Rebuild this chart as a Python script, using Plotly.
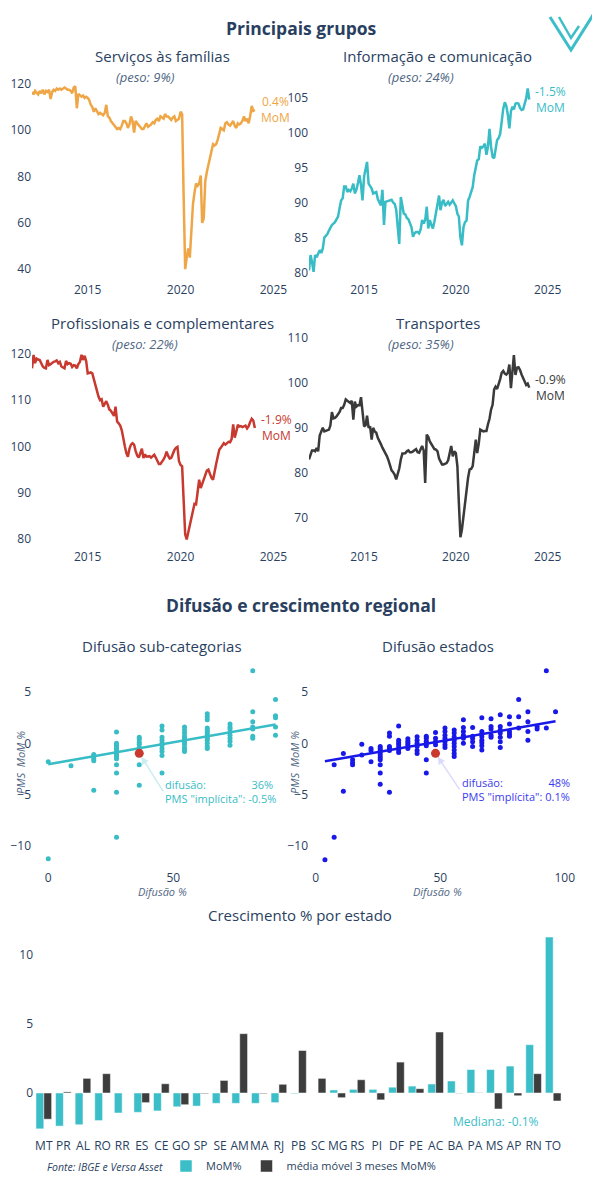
import plotly.graph_objects as go
import pandas as pd

W, H = 600, 1200

# ---------------- data ----------------
dates = pd.date_range("2012-01-01", periods=145, freq="MS")

familias = [
    116.5, 115.5, 117, 116, 115.5, 117, 116, 117.5, 115.5, 117, 116.5, 117.5,
    113.5, 116.5, 117.5, 117, 118, 117.5, 118, 117.5, 118, 118.5, 118, 117.5,
    117.5, 117, 116, 118.5, 119, 109.5, 115.7, 115, 114.5, 115, 114, 114.5,
    114, 113, 111, 110, 108, 109.5, 108, 107, 107.5, 107, 106.5, 107.5,
    111, 106, 105.5, 104, 103, 102, 101.5, 100.5, 101, 100.5, 102, 104,
    104, 103, 101, 102.5, 106, 104, 99, 104, 103, 102, 101, 100.5,
    100.5, 102, 103, 101.5, 102, 102.5, 103.5, 103, 104.5, 105, 104, 106,
    105.5, 105, 107, 106, 106, 105, 104.5, 105.5, 106, 104, 104.5, 105,
    108, 107, 72, 40, 45, 49, 45, 60, 68, 73, 77, 76,
    77, 80.5, 60, 62, 78, 82, 85, 88, 92, 94, 93.5, 94,
    96, 99, 101, 100.5, 100, 103, 103.5, 102.5, 102, 103, 104, 102,
    101, 103, 102.5, 103, 104, 106, 104, 105, 103, 106, 110.5, 108.4,
    108.8,
]

informacao = [
    80.3, 82.5, 81.5, 80.1, 82.5, 82.2, 82.7, 83.2, 82.8, 83.4, 85.0, 85.3,
    85.5, 86.0, 86.5, 86.8, 87.0, 87.2, 87.6, 88.0, 89.2, 90.3, 90.6, 92.3,
    92.3, 91.5, 91.8, 91.6, 92.0, 92.7, 91.3, 91.8, 92.8, 93.9, 92.5, 90.3,
    93.7, 95.0, 95.8, 92.7, 92.4, 92.0, 91.3, 91.4, 91.5, 90.5, 89.9, 89.6,
    91.8, 86.8, 90.1, 90.2, 90.3, 90.3, 90.4, 90.0, 89.8, 89.0, 87.0, 84.1,
    90.8, 89.5, 88.4, 88.3, 87.8, 87.6, 87.0, 86.5, 85.1, 85.6, 85.8, 85.8,
    85.6, 86.2, 87.5, 87.0, 87.5, 89.4, 86.3, 87.5, 86.8, 86.3, 87.3, 88.5,
    90.0, 91.0, 88.9, 90.0, 90.4, 89.5, 89.8, 90.1, 89.7, 90.0, 90.3, 89.9,
    89.5, 88.4, 88.0, 85.0, 83.9, 86.5, 87.2, 87.4, 90.3, 90.8, 91.5, 92.2,
    93.9, 95.2, 96.0, 96.2, 98.0, 97.8, 98.0, 98.4, 96.8, 98.0, 100.5, 98.0,
    96.5, 96.3, 97.5, 98.9, 99.2, 99.8, 101.5, 103.4, 104.3, 103.8, 102.5, 100.6,
    103.0, 103.7, 103.3, 104.1, 104.2, 104.1, 103.5, 103.2, 103.3, 104.0, 104.9, 106.3,
    104.7,
]

profissionais = [
    116.9, 119.8, 118.0, 119.0, 118.8, 118.7, 118.0, 117.3, 117.0, 116.9, 118.7, 117.6,
    117.8, 118.1, 118.3, 118.4, 118.6, 118.0, 118.3, 117.3, 117.1, 116.9, 118.5, 117.8,
    118.0, 117.9, 117.2, 117.6, 117.5, 116.9, 117.8, 118.3, 119.8, 118.7, 119.6, 118.5,
    115.8, 116.0, 116.0, 115.8, 114.5, 113.3, 112.2, 110.8, 110.0, 110.2, 108.6, 109.3,
    109.8, 109.0, 108.0, 107.7, 107.2, 106.6, 108.6, 105.4, 105.0, 104.5, 103.5, 101.4,
    100.0, 98.5, 97.8, 99.5, 100.4, 100.7, 100.4, 99.0, 98.0, 97.6, 98.6, 99.5,
    97.5, 98.3, 97.8, 97.9, 97.9, 97.6, 98.0, 98.2, 97.6, 96.8, 96.2, 96.2,
    96.6, 97.2, 97.8, 98.9, 98.0, 97.4, 97.5, 98.6, 99.2, 99.7, 99.9, 96.8,
    96.0, 95.7, 88.5, 81.0, 79.9, 81.5, 83.5, 84.7, 86.0, 87.6, 87.5, 90.6,
    92.8, 91.0, 91.9, 93.0, 93.8, 94.8, 95.0, 94.0, 93.2, 92.8, 95.0, 96.2,
    97.8, 99.3, 99.7, 100.1, 100.7, 100.4, 100.7, 101.0, 100.9, 101.6, 104.8, 101.9,
    103.2, 104.7, 104.3, 104.4, 104.2, 104.3, 104.5, 103.9, 104.4, 105.3, 106.0, 105.6,
    104.0,
]

transportes = [
    83.0, 84.0, 85.0, 85.0, 84.8, 85.5, 84.8, 88.3, 89.0, 90.0, 89.2, 89.3,
    89.5, 89.6, 90.5, 93.5, 92.1, 92.2, 92.5, 92.9, 93.5, 94.4, 94.4, 95.1,
    96.3, 96.0, 95.8, 95.5, 96.0, 91.8, 95.8, 94.7, 95.0, 95.0, 96.8, 94.0,
    90.3, 90.6, 92.7, 90.0, 90.3, 87.4, 90.0, 89.2, 88.9, 87.8, 87.2, 86.4,
    85.6, 85.0, 84.6, 83.7, 82.8, 81.7, 80.6, 80.2, 79.6, 78.6, 79.9, 81.0,
    83.0, 84.3, 84.3, 84.4, 84.8, 85.0, 84.6, 84.6, 84.8, 85.0, 85.3, 84.6,
    84.5, 85.3, 86.0, 85.0, 77.8, 88.5, 88.0, 87.0, 86.4, 85.6, 85.3, 85.2,
    84.8, 83.2, 82.5, 81.9, 81.9, 82.1, 82.2, 82.8, 84.5, 86.0, 83.7, 84.8,
    84.4, 81.5, 73.4, 65.8, 67.5, 70.5, 73.5, 76.5, 79.0, 80.8, 80.9, 81.5,
    84.5, 87.4, 84.4, 86.5, 89.6, 89.3, 89.2, 89.3, 89.3, 90.8, 92.0, 94.0,
    95.1, 98.5, 99.1, 98.6, 99.5, 100.8, 102.2, 102.6, 102.0, 101.8, 102.2, 104.0,
    98.8, 103.5, 106.1, 101.7, 103.3, 103.4, 102.8, 101.8, 101.1, 100.5, 99.5, 99.8,
    98.9,
]

group_titles = ["Serviços às famílias", "Informação e comunicação",
                "Profissionais e complementares", "Transportes"]
group_pesos = ["(peso: 9%)", "(peso: 24%)", "(peso: 22%)", "(peso: 35%)"]
group_mom = ["0.4%", "-1.5%", "-1.9%", "-0.9%"]

# diffusion scatter: (diffusion level, [PMS MoM % values])
sub_groups = [
    (0.0, [-1.8, -11.3]),
    (9.1, [-2.2]),
    (18.2, [-1.1, -1.3, -1.5, -1.7, -4.6]),
    (27.3, [1.1, 0.0, -0.2, -0.3, -0.5, -0.6, -0.8, -1.0, -1.1, -1.3, -1.5, -2.1, -2.9, -4.8, -9.2]),
    (36.4, [0.6, 0.4, 0.1, -0.1, -0.4, -0.6, -2.1, -4.1]),
    (45.5, [1.7, 1.3, 0.6, 0.3, 0.0, -0.2, -0.5, -0.8, -1.2, -2.9]),
    (54.5, [1.6, 1.3, 1.0, 0.7, 0.5, 0.3, 0.1, -0.1, -0.4, -0.6, -0.8]),
    (63.6, [2.9, 2.6, 2.3, 1.5, 1.3, 1.1, 0.9, 0.7, 0.5, 0.3, 0.0, -0.3, -0.5]),
    (72.7, [1.9, 1.6, 1.4, 1.1, 0.8, 0.5, 0.2, -0.2]),
    (81.8, [7.1, 3.1, 2.1, 1.6, 1.4, 0.7, 0.5]),
    (90.9, [4.3, 2.7, 2.5, 1.6, 0.8]),
]
sub_trend_x = [0.0, 90.9]
sub_trend_y = [-2.05, 1.85]
sub_current = (36.4, -0.98)

est_groups = [
    (3.7, [-11.4]),
    (7.4, [-2.1, -9.2]),
    (11.1, [-1.0, -4.7]),
    (14.8, [-1.6, -1.9, -2.1]),
    (18.5, [-0.1, -1.15]),
    (22.2, [-0.5, -0.7, -1.8]),
    (25.9, [-0.3, -0.5, -0.7, -0.9, -1.15, -1.4, -1.6, -2.1, -2.9, -4.0]),
    (29.6, [1.0, 0.7, -0.3, -0.5, -0.7, -4.8]),
    (33.3, [1.7, 0.3, 0.05, -0.15, -0.4, -0.65, -0.9]),
    (37.0, [0.45, 0.2, 0.0, -0.2, -0.5]),
    (40.7, [0.65, 0.3, 0.0, -0.3, -0.7, -1.0]),
    (44.4, [0.7, 0.5, 0.2, 0.0, -0.25, -1.6, -2.9]),
    (48.1, [1.05, 0.5, 0.15, -0.15]),
    (51.9, [1.5, 1.15, 0.8, 0.5, 0.15, -0.15, -0.4]),
    (55.6, [1.3, 1.0, 0.65, 0.3, 0.0, -0.3, -0.65, -1.0, -1.3]),
    (59.3, [2.3, 1.55, 1.15, 0.8, 0.5, 0.0]),
    (63.0, [1.55, 0.7, 0.5, 0.15, -0.3]),
    (66.7, [2.5, 1.15, 0.9, 0.65, 0.3, 0.05, -0.25, -0.65]),
    (70.4, [2.4, 1.65, 1.4, 0.8, 0.6]),
    (74.1, [2.8, 1.65, 1.3, 1.0, 0.6, 0.15, -0.4]),
    (77.8, [2.6, 1.9, 1.15, 0.9, 0.7]),
    (81.5, [4.3, 2.6, 1.5]),
    (85.2, [3.1, 2.1, 1.15, 0.3]),
    (88.9, [1.65, 1.4]),
    (92.6, [7.1, 1.5]),
    (96.3, [3.1]),
]
est_trend_x = [3.7, 96.3]
est_trend_y = [-1.75, 2.15]
est_current = (48.1, -0.98)

states = ["MT", "PR", "AL", "RO", "RR", "ES", "CE", "GO", "SP", "SE", "AM", "MA", "RJ", "PB",
          "SC", "MG", "RS", "PI", "DF", "PE", "AC", "BA", "PA", "MS", "AP", "RN", "TO"]
mom_estado = [-2.6, -2.4, -2.3, -2.0, -1.45, -1.4, -1.3, -1.0, -0.95, -0.75, -0.75, -0.75, -0.7, -0.05,
              0.0, 0.22, 0.26, 0.26, 0.42, 0.5, 0.65, 0.87, 1.7, 1.7, 1.95, 3.5, 11.3]
mm3_estado = [-1.9, 0.08, 1.06, 1.4, 0.0, -0.7, 0.67, -0.85, -0.05, 0.91, 4.3, -0.05, 0.63, 3.08,
              1.06, -0.34, 0.96, -0.5, 2.24, 0.31, 4.42, -0.02, 0.02, -1.16, -0.2, 1.4, -0.58]

# ---------------- styling ----------------
ORANGE = "#EFA646"
TEAL = "#38BCC6"
RED = "#C8392F"
DARK = "#3A3A3A"
BLUE = "#1818E8"
BAR_CYAN = "#3BBEC8"
BAR_DARK = "#3D3D3D"
TXT = "#2a3f5f"

OFF = 8  # page offset of the figure inside the browser window


def fx(x):
    return (x - OFF) / W


def fy(y):
    return 1 - (y - OFF) / H


C1, C2 = (32, 292), (309, 566)
CB = (34, 563)
R1, R2, R3, R4 = (68, 281), (335, 548), (658, 869), (927, 1137)


def xdom(c):
    return [fx(c[0]), fx(c[1])]


def ydom(r):
    return [fy(r[1]), fy(r[0])]


fig = go.Figure()

series = [familias, informacao, profissionais, transportes]
colors = [ORANGE, TEAL, RED, DARK]
for i, (s, col) in enumerate(zip(series, colors)):
    ax = "" if i == 0 else str(i + 1)
    fig.add_trace(go.Scatter(x=dates, y=s, mode="lines", line=dict(color=col, width=2.5),
                             xaxis="x" + ax, yaxis="y" + ax, showlegend=False))


def flatten(groups):
    xs, ys = [], []
    for lvl, vals in groups:
        for v in vals:
            xs.append(lvl)
            ys.append(v)
    return xs, ys


sx, sy = flatten(sub_groups)
ex, ey = flatten(est_groups)

fig.add_trace(go.Scatter(x=sx, y=sy, mode="markers", marker=dict(color=TEAL, size=5),
                         xaxis="x5", yaxis="y5", showlegend=False))
fig.add_trace(go.Scatter(x=sub_trend_x, y=sub_trend_y, mode="lines", line=dict(color=TEAL, width=2.5),
                         xaxis="x5", yaxis="y5", showlegend=False))
fig.add_trace(go.Scatter(x=[sub_current[0]], y=[sub_current[1]], mode="markers",
                         marker=dict(color=RED, size=9), xaxis="x5", yaxis="y5", showlegend=False))

fig.add_trace(go.Scatter(x=ex, y=ey, mode="markers", marker=dict(color=BLUE, size=5),
                         xaxis="x6", yaxis="y6", showlegend=False))
fig.add_trace(go.Scatter(x=est_trend_x, y=est_trend_y, mode="lines", line=dict(color=BLUE, width=2.5),
                         xaxis="x6", yaxis="y6", showlegend=False))
fig.add_trace(go.Scatter(x=[est_current[0]], y=[est_current[1]], mode="markers",
                         marker=dict(color=RED, size=9), xaxis="x6", yaxis="y6", showlegend=False))

fig.add_trace(go.Bar(x=states, y=mom_estado, name="MoM%", marker_color=BAR_CYAN,
                     xaxis="x7", yaxis="y7"))
fig.add_trace(go.Bar(x=states, y=mm3_estado, name="média móvel 3 meses MoM%", marker_color=BAR_DARK,
                     xaxis="x7", yaxis="y7"))

base = dict(showgrid=False, zeroline=False, showline=False, ticks="", automargin=False,
            tickfont=dict(size=12))

date_ax = dict(base, type="date", range=["2012-01-01", "2026-01-01"], dtick="M60",
               tick0="2015-01-01", tickformat="%Y")

layout_axes = dict(
    xaxis=dict(date_ax, domain=xdom(C1), anchor="y"),
    yaxis=dict(base, domain=ydom(R1), anchor="x", range=[34.9, 126.9], dtick=20),
    xaxis2=dict(date_ax, domain=xdom(C2), anchor="y2"),
    yaxis2=dict(base, domain=ydom(R1), anchor="x2", range=[78.8, 109.2], dtick=5),
    xaxis3=dict(date_ax, domain=xdom(C1), anchor="y3"),
    yaxis3=dict(base, domain=ydom(R2), anchor="x3", range=[78.05, 124.1], dtick=10),
    xaxis4=dict(date_ax, domain=xdom(C2), anchor="y4"),
    yaxis4=dict(base, domain=ydom(R2), anchor="x4", range=[63.4, 110.55], dtick=10),
    xaxis5=dict(base, domain=xdom(C1), anchor="y5", range=[-6.5, 97.5], dtick=50),
    yaxis5=dict(base, domain=ydom(R3), anchor="x5", range=[-12.3, 8.35], dtick=5),
    xaxis6=dict(base, domain=xdom(C2), anchor="y6", range=[-2.7, 100.5], dtick=50),
    yaxis6=dict(base, domain=ydom(R3), anchor="x6", range=[-12.3, 8.35], dtick=5),
    xaxis7=dict(base, domain=xdom(CB), anchor="y7", type="category", tickangle=0),
    yaxis7=dict(base, domain=ydom(R4), anchor="x7", range=[-3.19, 12.03], dtick=5),
)

ann = []


def txt(text, x, y, size=12, color=TXT, xanchor="center", yanchor="middle", **kw):
    ann.append(dict(text=text, x=fx(x), y=fy(y), xref="paper", yref="paper", xanchor=xanchor,
                    yanchor=yanchor, showarrow=False, font=dict(size=size, color=color), **kw))


# section titles
txt("<b>Principais grupos</b>", 301, 28, size=17.5)
txt("<b>Difusão e crescimento regional</b>", 301, 605, size=17.5)

# subplot titles
cols_c = [(C1[0] + C1[1]) / 2, (C2[0] + C2[1]) / 2]
tops = [R1[0], R1[0], R2[0], R2[0]]
for i in range(4):
    cx = cols_c[i % 2]
    txt(group_titles[i], cx, tops[i], size=15, yanchor="bottom")
    txt("<i>" + group_pesos[i] + "</i>", cx - 17, tops[i] + 9, size=13, color="#506784")
    ax = "" if i == 0 else str(i + 1)
    ann.append(dict(text=group_mom[i] + "<br>MoM", x=dates[-1], y=series[i][-1], xref="x" + ax,
                    yref="y" + ax, xanchor="left", yanchor="middle", xshift=4, align="center",
                    showarrow=False, font=dict(size=12, color=colors[i])))

txt("Difusão sub-categorias", cols_c[0], R3[0], size=15, yanchor="bottom")
txt("Difusão estados", cols_c[1], R3[0], size=15, yanchor="bottom")
txt("Crescimento % por estado", 300, R4[0], size=15, yanchor="bottom")

# scatter axis titles
txt("<i>Difusão %</i>", cols_c[0], 891, size=11, color="#506784")
txt("<i>Difusão %</i>", cols_c[1], 891, size=11, color="#506784")
txt("<i>PMS  MoM %</i>", 20, 763, size=11, color="#506784", textangle=-90)
txt("<i>PMS  MoM %</i>", 294, 763, size=11, color="#506784", textangle=-90)

# scatter callouts
ann.append(dict(text='difusão:                36%<br>PMS "implícita": -0.5%', x=sub_current[0],
                y=sub_current[1], xref="x5", yref="y5", ax=24, ay=38, xanchor="left",
                yanchor="middle", align="left", showarrow=True, arrowhead=2, arrowsize=1,
                arrowwidth=1.5, arrowcolor="rgba(56,188,198,0.25)", standoff=4,
                font=dict(size=11, color=TEAL)))
ann.append(dict(text='difusão:                48%<br>PMS "implícita": 0.1%', x=est_current[0],
                y=est_current[1], xref="x6", yref="y6", ax=24, ay=36, xanchor="left",
                yanchor="middle", align="left", showarrow=True, arrowhead=2, arrowsize=1,
                arrowwidth=1.5, arrowcolor="rgba(24,24,232,0.15)", standoff=4,
                font=dict(size=11, color="#3a3af0")))

# median note
ann.append(dict(text="Mediana: -0.1%", x=23.1, y=-2.1, xref="x7", yref="y7", showarrow=False,
                xanchor="center", yanchor="middle", font=dict(size=12, color=BAR_CYAN)))

# source
txt("<i>Fonte: IBGE e Versa Asset</i>", 45, 1167, size=10.5, color=TXT, xanchor="left")


# logo shapes
def p(x, y):
    return "%.4f,%.4f" % (fx(x), fy(y))


shapes = [
    dict(type="path", xref="paper", yref="paper",
         path="M" + p(550, 17) + " L" + p(571, 50) + " L" + p(595, 12),
         line=dict(color=BAR_CYAN, width=3)),
    dict(type="path", xref="paper", yref="paper",
         path="M" + p(559, 17) + " L" + p(571, 38) + " L" + p(579, 26),
         line=dict(color=BAR_CYAN, width=2.5)),
]

fig.update_layout(
    width=W, height=H,
    template="plotly_white",
    margin=dict(l=0, r=0, t=0, b=0),
    paper_bgcolor="white", plot_bgcolor="white",
    barmode="group",
    annotations=ann,
    shapes=shapes,
    legend=dict(orientation="h", x=fx(166), y=fy(1166), xanchor="left", yanchor="middle",
                font=dict(size=11, color=TXT), bgcolor="rgba(0,0,0,0)"),
    **layout_axes,
)

fig.write_html("out.html")
